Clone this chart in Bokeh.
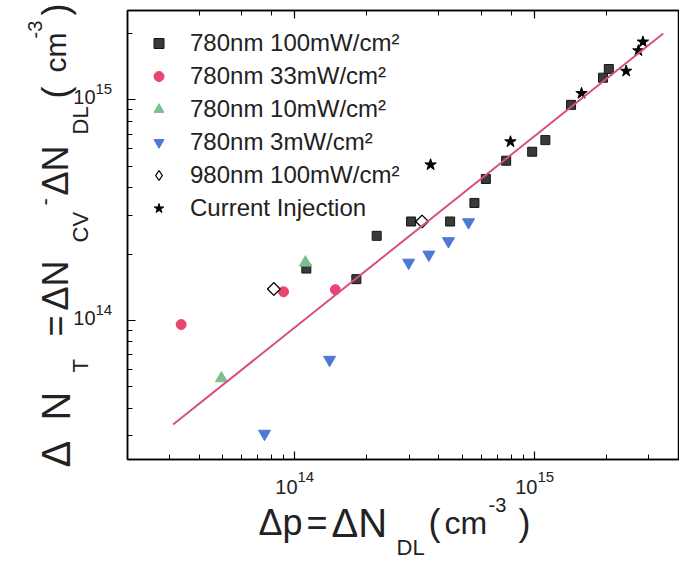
import math
from bokeh.plotting import figure
from bokeh.models import Legend, LogAxis, CustomJSTickFormatter
from bokeh.embed import file_html
from bokeh.resources import INLINE
from bokeh.core.properties import value

# ---------------- data ----------------
sq_x = [2.20e14, 3.06e14, 4.45e14, 1.81e14, 1.12e14, 5.62e14, 6.27e14, 7.62e14,
        9.78e14, 1.11e15, 1.42e15, 1.93e15, 2.04e15]
sq_y = [2.42e14, 2.81e14, 2.81e14, 1.54e14, 1.72e14, 3.41e14, 4.38e14, 5.30e14,
        5.82e14, 6.57e14, 9.49e14, 1.26e15, 1.38e15]

circ_x = [3.37e13, 9.0e13, 1.48e14]
circ_y = [9.59e13, 1.35e14, 1.38e14]

tri_x = [4.96e13, 1.11e14]
tri_y = [5.47e13, 1.83e14]

inv_x = [7.5e13, 1.40e14, 2.99e14, 3.63e14, 4.38e14, 5.31e14]
inv_y = [3.07e13, 6.64e13, 1.83e14, 1.99e14, 2.29e14, 2.79e14]

dia_x = [8.2e13, 3.40e14]
dia_y = [1.39e14, 2.81e14]

star_x = [3.69e14, 7.94e14, 1.57e15, 2.41e15, 2.83e15, 2.71e15]
star_y = [5.08e14, 6.46e14, 1.07e15, 1.35e15, 1.83e15, 1.67e15]

fit_x = [3.12e13, 3.44e15]
fit_y = [3.38e13, 2.00e15]

series_labels = ["780nm 100mW/cm\u00b2", "780nm 33mW/cm\u00b2", "780nm 10mW/cm\u00b2",
                 "780nm 3mW/cm\u00b2", "980nm 100mW/cm\u00b2", "Current Injection"]

x_ticks = [1e14, 1e15]
x_exps = ["14", "15"]
y_ticks = [1e14, 1e15]
y_exps = ["14", "15"]

X_RANGE = (2.014e13, 4.02e15)
Y_RANGE = (2.346e13, 2.54e15)

FONT = "Liberation Sans"
TXT_COLOR = "#222222"

# frame geometry (page px)
FL, FR, FT, FB = 127, 679, 10, 459

# ---------------- figure ----------------
p = figure(width=679, height=563, x_axis_type="log", y_axis_type="log",
           x_range=X_RANGE, y_range=Y_RANGE,
           output_backend="svg", toolbar_location=None,
           min_border_left=FL, min_border_right=0, min_border_top=FT,
           min_border_bottom=563 - FB)
p.xgrid.visible = False
p.ygrid.visible = False
p.outline_line_color = "black"
p.outline_line_width = 1.5
p.background_fill_color = "white"
p.border_fill_color = "white"

empty = CustomJSTickFormatter(code="return ''")


def style_axis(ax):
    ax.formatter = empty
    ax.major_tick_in = 8
    ax.major_tick_out = 0
    ax.minor_tick_in = 5
    ax.minor_tick_out = 0
    ax.axis_line_color = "black"
    ax.axis_line_width = 1.5
    ax.major_tick_line_width = 1.2
    ax.minor_tick_line_width = 1.0
    ax.major_label_standoff = 0
    ax.major_label_text_font_size = "1px"


for ax in p.xaxis + p.yaxis:
    style_axis(ax)

top = LogAxis()
style_axis(top)
p.add_layout(top, "above")

r_sq = p.scatter(sq_x, sq_y, marker="square", size=9, fill_color="#3a3a3a", line_color="#151515")
r_ci = p.scatter(circ_x, circ_y, marker="circle", size=10, fill_color="#e8456f", line_color="#e8456f")
r_tr = p.scatter(tri_x, tri_y, marker="triangle", size=12, fill_color="#7cbf8c", line_color="#7cbf8c")
r_iv = p.scatter(inv_x, inv_y, marker="inverted_triangle", size=12, fill_color="#4f78d6", line_color="#4f78d6")
# narrow diamond (used for the legend glyph), hidden underneath the open square-diamonds
r_di_leg = p.scatter(dia_x, dia_y, marker="diamond", size=12,
                     fill_color="white", line_color="black", line_width=1.3)
r_di = p.scatter(dia_x, dia_y, marker="square", angle=math.pi / 4, size=9,
                 fill_color="white", line_color="black", line_width=1.3)
r_st = p.scatter(star_x, star_y, marker="star", size=12, fill_color="black", line_color="black")
p.line(fit_x, fit_y, line_color="#d8507a", line_width=2)

legend = Legend(items=[(series_labels[0], [r_sq]), (series_labels[1], [r_ci]),
                       (series_labels[2], [r_tr]), (series_labels[3], [r_iv]),
                       (series_labels[4], [r_di_leg]), (series_labels[5], [r_st])],
                location="top_left", margin=19, padding=0,
                glyph_width=25, glyph_height=26, label_height=26,
                label_standoff=19, spacing=5,
                border_line_color=None, background_fill_alpha=0,
                label_text_font=FONT, label_text_font_size="24px",
                label_text_color=TXT_COLOR)
p.add_layout(legend, "center")

# ---------------- texts (overlay text glyphs, not clipped) ----------------
LX0, LX1 = math.log10(X_RANGE[0]), math.log10(X_RANGE[1])
LY0, LY1 = math.log10(Y_RANGE[0]), math.log10(Y_RANGE[1])


def page_x(v):
    return FL + (math.log10(v) - LX0) / (LX1 - LX0) * (FR - FL)


def page_y(v):
    return FB - (math.log10(v) - LY0) / (LY1 - LY0) * (FB - FT)


AX, AY = x_ticks[0], y_ticks[0]          # anchor point inside the frame


def ptext(text, px, py, size, angle=0.0, align="left", ax=None, ay=None):
    """px, py: page position of the text start (align) and of its middle line."""
    ax = AX if ax is None else ax
    ay = AY if ay is None else ay
    p.text(x=[ax], y=[ay], text=[text],
           x_offset=px - page_x(ax), y_offset=py - page_y(ay),
           angle=angle, text_font=value(FONT), text_font_size=f"{size}px",
           text_color=TXT_COLOR, text_align=align, text_baseline="middle",
           level="overlay")


# tick labels
for t, e in zip(x_ticks, x_exps):
    ptext("10", page_x(t) + 3, 486, 20, align="right", ax=t)
    ptext(e, page_x(t) + 3, 476, 15, align="left", ax=t)
for t, e in zip(y_ticks, y_exps):
    ptext("10", 95, page_y(t) - 3, 20, align="right", ay=t)
    ptext(e, 95, page_y(t) - 11, 15, align="left", ay=t)

# x axis title:  Δp = ΔN_DL( cm^-3 )
XM, XS, XP = 522, 547, 504
ptext("\u0394p", 258, XM, 36)
ptext("=", 306, XM, 36)
ptext("\u0394N", 331, XM, 40)
ptext("DL", 396, XS, 22)
ptext("(", 428, XM, 36)
ptext("cm", 444, XM, 32)
ptext("-3", 488, XP, 20)
ptext(")", 518, XM, 36)

# y axis title:  Δ N_T = ΔN_CV - ΔN_DL ( cm^-3 )   (reads bottom to top)
R = math.pi / 2
YM, YS, YP = 55, 80, 34
ptext("\u0394", YM, 467, 40, angle=R)
ptext("N", YM, 420, 40, angle=R)
ptext("T", YS, 372, 22, angle=R)
ptext("=", YM, 336, 36, angle=R)
ptext("\u0394N", YM, 310, 36, angle=R)
ptext("CV", YS, 242, 22, angle=R)
ptext("-", 44, 205, 22, angle=R)
ptext("\u0394N", YM, 195, 36, angle=R)
ptext("DL", YS, 134, 22, angle=R)
ptext("(", YM, 98, 36, angle=R)
ptext("cm", YM, 72, 30, angle=R)
ptext("-3", YP, 38, 20, angle=R)
ptext(")", YM, 15, 36, angle=R)

open("out.html", "w").write(file_html(p, INLINE))
